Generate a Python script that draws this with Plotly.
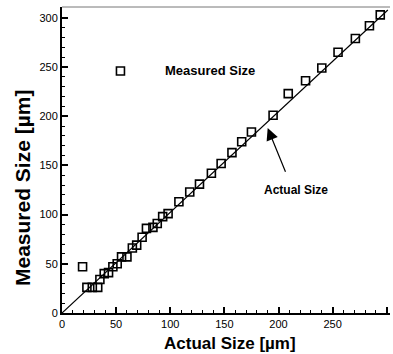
import plotly.graph_objects as go

actual = [19, 23, 28, 33, 35, 39, 43, 47, 51, 55, 60, 65, 69, 74, 78, 84, 88, 93, 98,
          108, 118, 127, 138, 147, 157, 166, 175, 195, 209, 225, 240, 255, 271, 284, 294]
measured = [47, 26, 26, 26, 34, 40, 41, 47, 50, 57, 57, 66, 69, 77, 86, 87, 91, 98, 101,
            113, 123, 131, 142, 152, 163, 174, 184, 201, 223, 236, 249, 265, 279, 292, 303]
line_x = [0, 301]
line_y = [0, 308]

fig = go.Figure()
fig.add_trace(go.Scatter(x=line_x, y=line_y, mode="lines",
                         line=dict(color="black", width=1.2), showlegend=False))
fig.add_trace(go.Scatter(x=actual, y=measured, mode="markers",
                         marker=dict(symbol="square-open", size=8, color="black",
                                     line=dict(width=1.6)), showlegend=False))
# legend sample
fig.add_trace(go.Scatter(x=[54], y=[246], mode="markers",
                         marker=dict(symbol="square-open", size=8, color="black",
                                     line=dict(width=1.6)), showlegend=False))

FONT = "Arial, Liberation Sans"
fig.add_annotation(x=93, y=246, text="<b>Measured Size</b>", showarrow=False,
                   xanchor="left", yanchor="middle",
                   font=dict(family=FONT, size=13, color="black"))
fig.add_annotation(x=190, y=188, ax=207, ay=142, axref="x", ayref="y",
                   text="", showarrow=True, arrowhead=2, arrowsize=2,
                   arrowwidth=1.2, arrowcolor="black")
fig.add_annotation(x=216, y=125, text="<b>Actual Size</b>", showarrow=False,
                   xanchor="center", yanchor="middle",
                   font=dict(family=FONT, size=12, color="black"))

fig.add_annotation(xref="paper", yref="paper", x=0.5, y=0, yshift=-30,
                   xshift=4, text="<b>Actual Size [µm]</b>", showarrow=False,
                   xanchor="center", yanchor="middle",
                   font=dict(family=FONT, size=17, color="black"))
fig.add_annotation(xref="paper", yref="y", x=0, xshift=-40, y=127,
                   text="<b>Measured Size [µm]</b>", showarrow=False,
                   textangle=-90, xanchor="center", yanchor="middle",
                   font=dict(family=FONT, size=21, color="black"))

axis_common = dict(tickvals=[0, 50, 100, 150, 200, 250, 300],
                   ticks="inside", ticklen=6, tickwidth=1.5, tickcolor="black",
                   minor=dict(dtick=10, ticks="inside", ticklen=3, tickcolor="black", tickwidth=1),
                   showline=True, linecolor="black", linewidth=2, mirror=False,
                   showgrid=False, zeroline=False,
                   tickfont=dict(family=FONT, size=11, color="black"))
fig.update_xaxes(range=[0, 303], **axis_common)
fig.update_yaxes(range=[0, 311], **axis_common)

fig.add_shape(type="line", xref="paper", yref="paper", x0=0, x1=1, y0=1, y1=1,
              line=dict(color="#777", width=1))

fig.update_layout(width=393, height=354, margin=dict(l=62, r=3, t=7, b=41),
                  paper_bgcolor="white", plot_bgcolor="white")
fig.write_html("out.html")
